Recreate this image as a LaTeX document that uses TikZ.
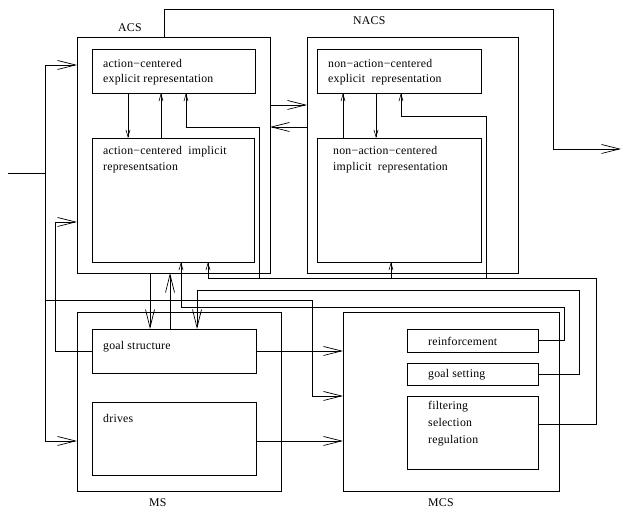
\documentclass[tikz,border=0pt]{standalone}
\usepackage{fontspec}
\setmainfont{Liberation Serif}[LetterSpace=2]
\usetikzlibrary{arrows.meta}
\begin{document}
\begin{tikzpicture}[x=1pt,y=-1pt,
  box/.style={draw, line width=0.7pt, inner sep=0pt, outer sep=0pt, anchor=north west},
  txt/.style={inner sep=0pt, anchor=base west, font=\fontsize{11.8}{13}\selectfont},
  conn/.style={line width=0.7pt},
  big/.style={conn, -{Straight Barb[length=18pt,width=9pt,line width=0.7pt]}},
  sm/.style={conn, -{Straight Barb[length=7pt,width=4pt,line width=0.6pt]}}]
\useasboundingbox (0,0) rectangle (622,510);
% boxes
\node[box, minimum width=193pt, minimum height=236pt] (acs) at (77,37) {};
\node[box, minimum width=163pt, minimum height=44pt] (aexp) at (92,49) {};
\node[box, minimum width=162pt, minimum height=124pt] (aimp) at (92,138) {};
\node[box, minimum width=211pt, minimum height=236pt] (nacs) at (307,37) {};
\node[box, minimum width=164pt, minimum height=44pt] (nexp) at (317,49) {};
\node[box, minimum width=164pt, minimum height=124pt] (nimp) at (317,138) {};
\node[box, minimum width=204pt, minimum height=179pt] (ms) at (77,312) {};
\node[box, minimum width=164pt, minimum height=44pt] (goal) at (92,329) {};
\node[box, minimum width=164pt, minimum height=73pt] (drives) at (92,402) {};
\node[box, minimum width=216pt, minimum height=179pt] (mcs) at (343,312) {};
\node[box, minimum width=131pt, minimum height=23pt] (reinf) at (407,329) {};
\node[box, minimum width=131pt, minimum height=22pt] (gset) at (407,363) {};
\node[box, minimum width=131pt, minimum height=73pt] (filt) at (407,396) {};
% labels
\node[txt] (lacs) at (118,32) {ACS};
\node[txt] (lnacs) at (353,25) {NACS};
\node[txt] (lms) at (149,507) {MS};
\node[txt] (lmcs) at (428,507) {MCS};
\node[txt] (t1) at (103,68) {action−centered};
\node[txt] (t2) at (103,83) {explicit representation};
\node[txt] (t3) at (103,155) {action−centered\ \ implicit};
\node[txt] (t4) at (103,171) {representsation};
\node[txt] (t5) at (328,68) {non−action−centered};
\node[txt] (t6) at (328,83) {explicit\ \ representation};
\node[txt] (t7) at (333,155) {non−action−centered};
\node[txt] (t8) at (333,171) {implicit\ \ representation};
\node[txt] (t9) at (103,350) {goal structure};
\node[txt] (t10) at (103,423) {drives};
\node[txt] (t11) at (428,346) {reinforcement};
\node[txt] (t12) at (428,378) {goal setting};
\node[txt] (t13) at (428,410) {filtering};
\node[txt] (t14) at (428,427) {selection};
\node[txt] (t15) at (428,444) {regulation};
% input
\coordinate (in) at (8,173);
\coordinate (j) at (45,173);
\coordinate (out) at (621,149);
\draw[conn] (in) -- (j);
\draw[big] (j) |- (acs.west |- 0,65);
\draw[big] (j) |- (ms.west |- 0,441);
\draw[big] (j |- 0,300) -| (312,396) -- (mcs.west |- 0,396);
% goal structure <-> ACS
\draw[big] (goal.west) -| (55,222) -- (acs.west |- 0,222);
\draw[big] (acs.south -| 150,0) -- (goal.north -| 150,0);
\draw[big] (goal.north -| 170,0) -- (acs.south -| 170,0);
% MS -> MCS
\draw[big] (goal.east) -- (mcs.west |- goal.east);
\draw[big] (drives.east |- 0,441) -- (mcs.west |- 0,441);
% ACS <-> NACS
\draw[big] (acs.east |- 0,105) -- (nacs.west |- 0,105);
\draw[big] (nacs.west |- 0,127) -- (acs.east |- 0,127);
% inner
\draw[sm] (aexp.south -| 128,0) -- (aimp.north -| 128,0);
\draw[sm] (aimp.north -| 161,0) -- (aexp.south -| 161,0);
\draw[sm] (nimp.north -| 343,0) -- (nexp.south -| 343,0);
\draw[sm] (nexp.south -| 376,0) -- (nimp.north -| 376,0);
% output
\draw[big] (acs.north -| 164,0) |- (553,9) |- (out);
% filtering feedback
\draw[sm] (filt.east |- 0,424) -| (596,278) -| (aimp.south -| 208,0);
\draw[sm] (259,278) |- (186,127) -- (aexp.south -| 186,0);
\draw[sm] (391,278) -- (nimp.south -| 391,0);
\draw[sm] (486,278) |- (401,116) -- (nexp.south -| 401,0);
% goal setting
\draw[big] (gset.east) -| (579,290) -| (goal.north -| 197,0);
% reinforcement
\draw[sm] (reinf.east) -| (564,307) -| (aimp.south -| 181,0);
\end{tikzpicture}
\end{document}
